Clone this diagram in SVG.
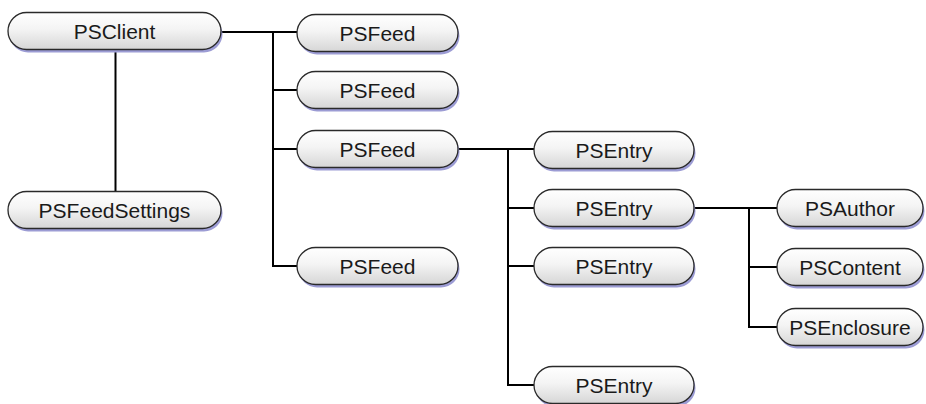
<svg xmlns="http://www.w3.org/2000/svg" width="926" height="404" viewBox="0 0 926 404">
  <defs>
    <linearGradient id="pill" x1="0" y1="0" x2="0" y2="1">
      <stop offset="0" stop-color="#ffffff"/>
      <stop offset="0.45" stop-color="#f4f4f4"/>
      <stop offset="1" stop-color="#d6d6d6"/>
    </linearGradient>
  </defs>
  <style>
    .shadow { fill: #9c9cd4; }
    .box { fill: url(#pill); stroke: #2a2a2a; stroke-width: 1.3; }
    .label { font-family: "Liberation Sans", Arial, sans-serif; font-size: 21px; fill: #1a1a1a; text-anchor: middle; }
    .wire { fill: none; stroke: #000; stroke-width: 2; }
  </style>

  <!-- connectors -->
  <g id="connectors">
    <path class="wire" d="M221 32 H297"/>
    <path class="wire" d="M273 32 V266 H297"/>
    <path class="wire" d="M273 90 H297"/>
    <path class="wire" d="M273 149 H297"/>
    <path class="wire" d="M115.5 49.5 V191.5"/>
    <path class="wire" d="M458 149 H534"/>
    <path class="wire" d="M508 149 V385 H534"/>
    <path class="wire" d="M508 208 H534"/>
    <path class="wire" d="M508 266 H534"/>
    <path class="wire" d="M694 208 H777"/>
    <path class="wire" d="M749 208 V327 H777"/>
    <path class="wire" d="M749 267 H777"/>
  </g>

  <!-- nodes -->
  <g id="psclient">
    <rect class="shadow" x="9.5" y="15.5" width="213" height="37" rx="18.5"/>
    <rect class="box" x="8" y="12.5" width="213" height="37" rx="18.5"/>
    <text class="label" x="114.5" y="38.5">PSClient</text>
  </g>
  <g id="psfeedsettings">
    <rect class="shadow" x="9.5" y="194.5" width="213" height="37" rx="18.5"/>
    <rect class="box" x="8" y="191.5" width="213" height="37" rx="18.5"/>
    <text class="label" x="114.5" y="217.5">PSFeedSettings</text>
  </g>

  <g id="psfeed1">
    <rect class="shadow" x="298.5" y="17.5" width="161" height="37" rx="18.5"/>
    <rect class="box" x="297" y="14.5" width="161" height="37" rx="18.5"/>
    <text class="label" x="377.5" y="40.5">PSFeed</text>
  </g>
  <g id="psfeed2">
    <rect class="shadow" x="298.5" y="74.5" width="161" height="37" rx="18.5"/>
    <rect class="box" x="297" y="71.5" width="161" height="37" rx="18.5"/>
    <text class="label" x="377.5" y="97.5">PSFeed</text>
  </g>
  <g id="psfeed3">
    <rect class="shadow" x="298.5" y="133.5" width="161" height="37" rx="18.5"/>
    <rect class="box" x="297" y="130.5" width="161" height="37" rx="18.5"/>
    <text class="label" x="377.5" y="156.5">PSFeed</text>
  </g>
  <g id="psfeed4">
    <rect class="shadow" x="298.5" y="250.5" width="161" height="37" rx="18.5"/>
    <rect class="box" x="297" y="247.5" width="161" height="37" rx="18.5"/>
    <text class="label" x="377.5" y="273.5">PSFeed</text>
  </g>

  <g id="psentry1">
    <rect class="shadow" x="535.5" y="134.5" width="160" height="37" rx="18.5"/>
    <rect class="box" x="534" y="131.5" width="160" height="37" rx="18.5"/>
    <text class="label" x="614" y="157.5">PSEntry</text>
  </g>
  <g id="psentry2">
    <rect class="shadow" x="535.5" y="192.5" width="160" height="37" rx="18.5"/>
    <rect class="box" x="534" y="189.5" width="160" height="37" rx="18.5"/>
    <text class="label" x="614" y="215.5">PSEntry</text>
  </g>
  <g id="psentry3">
    <rect class="shadow" x="535.5" y="250.5" width="160" height="37" rx="18.5"/>
    <rect class="box" x="534" y="247.5" width="160" height="37" rx="18.5"/>
    <text class="label" x="614" y="273.5">PSEntry</text>
  </g>
  <g id="psentry4">
    <rect class="shadow" x="535.5" y="369.5" width="160" height="37" rx="18.5"/>
    <rect class="box" x="534" y="366.5" width="160" height="37" rx="18.5"/>
    <text class="label" x="614" y="392.5">PSEntry</text>
  </g>

  <g id="psauthor">
    <rect class="shadow" x="778.5" y="192.5" width="146" height="37" rx="18.5"/>
    <rect class="box" x="777" y="189.5" width="146" height="37" rx="18.5"/>
    <text class="label" x="850" y="215.5">PSAuthor</text>
  </g>
  <g id="pscontent">
    <rect class="shadow" x="778.5" y="251.5" width="146" height="37" rx="18.5"/>
    <rect class="box" x="777" y="248.5" width="146" height="37" rx="18.5"/>
    <text class="label" x="850" y="274.5">PSContent</text>
  </g>
  <g id="psenclosure">
    <rect class="shadow" x="778.5" y="311.5" width="146" height="37" rx="18.5"/>
    <rect class="box" x="777" y="308.5" width="146" height="37" rx="18.5"/>
    <text class="label" x="850" y="334.5">PSEnclosure</text>
  </g>
</svg>
